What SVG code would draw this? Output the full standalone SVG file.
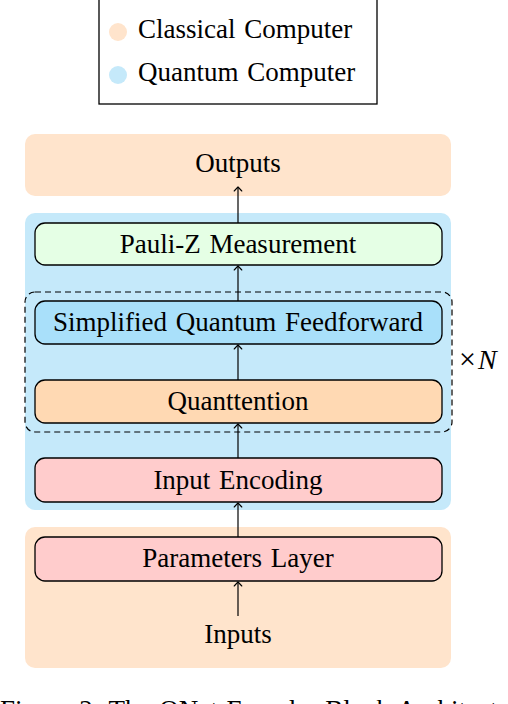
<svg xmlns="http://www.w3.org/2000/svg" width="508" height="704" viewBox="0 0 508 704">
<style>
text{font-family:"Liberation Serif","Times New Roman",serif;font-size:27px;fill:#000;word-spacing:2px}
.c{text-anchor:middle}
.bg{stroke:none}
.box{stroke:#000;stroke-width:1.3}
.conn{stroke:#000;stroke-width:1.2;fill:none;marker-end:url(#ah)}
</style>
<defs>
<marker id="ah" markerUnits="userSpaceOnUse" markerWidth="12" markerHeight="12" viewBox="-6 -6 12 12" refX="0" refY="0" orient="auto">
<path d="M-4,-3.8 Q-1,-1 0,0 Q-1,1 -4,3.8" fill="none" stroke="#000" stroke-width="1.1" stroke-linecap="round"/>
</marker>
</defs>
<rect width="508" height="704" fill="#fff"/>
<g id="legend">
<rect x="99" y="-2" width="278" height="106" fill="#fff" stroke="#000" stroke-width="1.3"/>
<circle cx="118" cy="32" r="9" fill="#FFE4CC"/>
<text x="138" y="38">Classical Computer</text>
<circle cx="118" cy="75" r="9" fill="#C5E9FA"/>
<text x="138" y="81">Quantum Computer</text>
</g>
<g id="classical-top">
<rect class="bg" x="25" y="134" width="426" height="62" rx="10" fill="#FFE4CC"/>
<text class="c" x="238" y="172">Outputs</text>
</g>
<g id="quantum-bg">
<rect class="bg" x="25" y="213" width="426" height="297" rx="10" fill="#C5E9FA"/>
</g>
<g id="classical-bottom">
<rect class="bg" x="25" y="527" width="426" height="141" rx="10" fill="#FFE4CC"/>
<text class="c" x="238" y="643">Inputs</text>
</g>
<g id="repeat-block">
<rect x="25" y="292" width="427" height="140" rx="10" fill="none" stroke="#000" stroke-width="1.2" stroke-dasharray="6,4"/>
<text x="459" y="369"><tspan style="font-size:30px">×</tspan><tspan dx="2" font-style="italic" style="font-size:28px">N</tspan></text>
</g>
<g id="pauli">
<rect class="box" x="35" y="223" width="407" height="42" rx="10" fill="#E5FFE5"/>
<text class="c" x="238" y="253">Pauli-Z Measurement</text>
</g>
<g id="sqf">
<rect class="box" x="35" y="301" width="407" height="43" rx="10" fill="#A9E0FA"/>
<text class="c" x="238" y="331">Simplified Quantum Feedforward</text>
</g>
<g id="quanttention">
<rect class="box" x="35" y="380" width="407" height="43" rx="10" fill="#FFD9B3"/>
<text class="c" x="238" y="410">Quanttention</text>
</g>
<g id="encoding">
<rect class="box" x="35" y="458" width="407" height="44" rx="10" fill="#FFCCCC"/>
<text class="c" x="238" y="489">Input Encoding</text>
</g>
<g id="params">
<rect class="box" x="35" y="537" width="407" height="44" rx="10" fill="#FFCCCC"/>
<text class="c" x="238" y="567">Parameters Layer</text>
</g>
<g id="connectors">
<line class="conn" x1="238" y1="616" x2="238" y2="582"/>
<line class="conn" x1="238" y1="537" x2="238" y2="503"/>
<line class="conn" x1="238" y1="458" x2="238" y2="424"/>
<line class="conn" x1="238" y1="380" x2="238" y2="345"/>
<line class="conn" x1="238" y1="301" x2="238" y2="266"/>
<line class="conn" x1="238" y1="223" x2="238" y2="187"/>
</g>
<text x="0" y="719">Figure 2: The QNet Encoder Block Architecture</text>
</svg>
